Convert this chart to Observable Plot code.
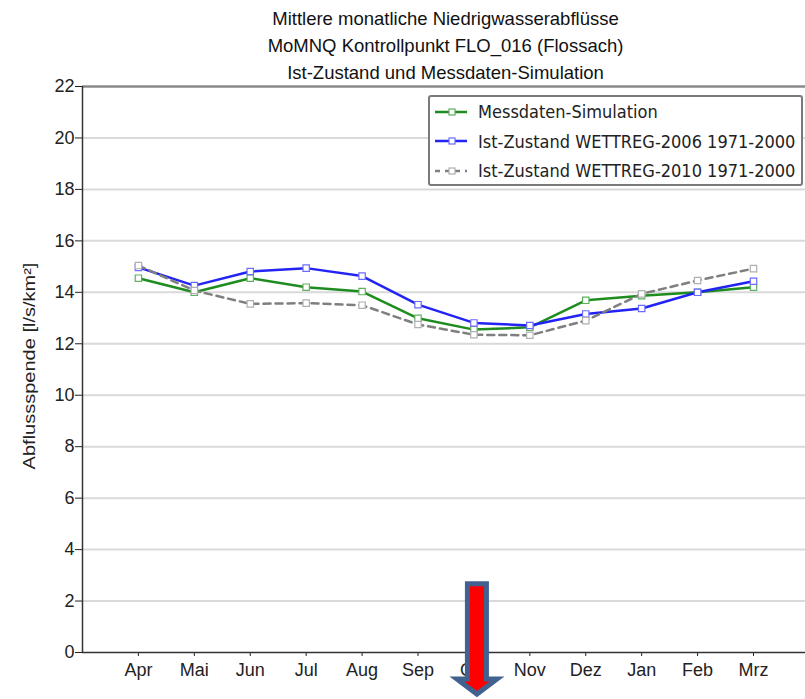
<!DOCTYPE html>
<html>
<head>
<meta charset="utf-8">
<script src="https://cdn.jsdelivr.net/npm/d3@7"></script>
<script src="https://cdn.jsdelivr.net/npm/@observablehq/plot@0.6"></script>
<style>
  body { margin: 0; background: white; }
  #wrap { position: relative; width: 805px; height: 699px; overflow: hidden; }
  #title {
    position: relative; z-index: 1; height: 60px; overflow: visible;
    padding-left: 86px; padding-top: 4.5px; box-sizing: border-box;
    font-family: "Liberation Sans", Arial, sans-serif;
    font-size: 18.5px; line-height: 27px; text-align: center; color: #111;
  }
  #ylabel {
    position: absolute; z-index: 1; left: 30px; top: 366px;
    transform: translate(-50%, -50%) rotate(-90deg) scaleY(0.8);
    font-family: "Liberation Sans", Arial, sans-serif; font-size: 20px; color: #222; white-space: nowrap;
  }
  #legend {
    position: absolute; z-index: 2; left: 428px; top: 95px; width: 375px; height: 91px;
    box-sizing: border-box; border: 2px solid #7a7a7a; border-radius: 3px; background: white;
    font-family: "DejaVu Sans Condensed", "DejaVu Sans", sans-serif; font-size: 18px; color: #222;
    padding-top: 0px;
  }
  .row { display: flex; align-items: center; height: 29.5px; }
  .row svg { margin-left: 5px; margin-right: 11px; }
</style>
</head>
<body>
<div id="wrap">
  <div id="title"></div>
  <div id="ylabel"></div>
  <div id="legend"></div>
  <div id="chart"></div>
</div>
<script>
// Titles
const titleLines = [
  "Mittlere monatliche Niedrigwasserabflüsse",
  "MoMNQ Kontrollpunkt FLO_016 (Flossach)",
  "Ist-Zustand und Messdaten-Simulation"
];
const yLabel = "Abflussspende [l/s/km²]";

// Hydrological year, April to March
const months = ["Apr", "Mai", "Jun", "Jul", "Aug", "Sep", "Okt", "Nov", "Dez", "Jan", "Feb", "Mrz"];
const yTicks = [0, 2, 4, 6, 8, 10, 12, 14, 16, 18, 20, 22];

// Mean monthly low-flow discharge per series [l/s/km²]
const messdaten   = [14.55, 14.00, 14.55, 14.20, 14.03, 12.99, 12.55, 12.64, 13.69, 13.87, 14.00, 14.20];
const wettreg2006 = [14.97, 14.26, 14.81, 14.94, 14.63, 13.52, 12.81, 12.71, 13.16, 13.37, 14.00, 14.43];
const wettreg2010 = [15.04, 14.07, 13.55, 13.58, 13.50, 12.75, 12.35, 12.33, 12.90, 13.94, 14.46, 14.92];

const seriesNames = [
  "Messdaten-Simulation",
  "Ist-Zustand WETTREG-2006 1971-2000",
  "Ist-Zustand WETTREG-2010 1971-2000"
];
const seriesValues = [messdaten, wettreg2006, wettreg2010];
const seriesColors = ["#1f8c1f", "#2323f5", "#7f7f7f"];
const markerStroke = ["#5fb05f", "#6b6bff", "#b0b0b0"];
const seriesDash = [null, null, "7,5"];

// Month highlighted by the arrow
const highlightMonth = "Okt";

document.getElementById("title").innerHTML = titleLines.map(t => `<div>${t}</div>`).join("");
document.getElementById("ylabel").textContent = yLabel;

const rows = seriesValues.map(vals => months.map((m, i) => ({i, month: m, v: vals[i]})));

const lineMarks = [];
rows.forEach((data, s) => {
  lineMarks.push(Plot.line(data, {
    x: "i", y: "v", stroke: seriesColors[s], strokeWidth: 2.5,
    strokeDasharray: seriesDash[s] ?? undefined
  }));
});
rows.forEach((data, s) => {
  lineMarks.push(Plot.dot(data, {
    x: "i", y: "v", symbol: "square", r: 3.6, fill: "white",
    stroke: markerStroke[s], strokeWidth: 1.2
  }));
});

const xDomain = [-1.0, 11.93];

const plot = Plot.plot({
  width: 805,
  height: 639,
  marginLeft: 82,
  marginRight: 0,
  marginTop: 26,
  marginBottom: 47,
  style: {
    background: "transparent",
    fontFamily: "'Liberation Sans', Arial, sans-serif",
    fontSize: "18px",
    color: "#222"
  },
  x: {
    type: "linear", domain: xDomain,
    ticks: months.map((_, i) => i), tickFormat: i => months[i],
    label: null, tickSize: 4, tickPadding: 7
  },
  y: {
    domain: [0, 22], ticks: yTicks, label: null, tickSize: 7, tickPadding: 1
  },
  marks: [
    Plot.ruleY(yTicks.slice(1, -1), {stroke: "#d9d9d9", strokeWidth: 2}),
    Plot.ruleY([22], {stroke: "#8a8a8a", strokeWidth: 2.5}),
    Plot.ruleY([0], {stroke: "#333", strokeWidth: 1.5}),
    Plot.ruleX([xDomain[0]], {stroke: "#333", strokeWidth: 1.5}),
    ...lineMarks
  ]
});

// Block arrow pointing at the highlighted month
{
  const xs = plot.scale("x"), ys = plot.scale("y");
  const cx = xs.apply(months.indexOf(highlightMonth)) + 3.5;
  const top = ys.apply(2.65);
  const base = ys.apply(0);
  const headY = base + 27, tipY = base + 42;
  const hw = 9.5, hh = 20;
  const path = `M${cx - hw},${top} L${cx + hw},${top} L${cx + hw},${headY} L${cx + hh},${headY} L${cx},${tipY} L${cx - hh},${headY} L${cx - hw},${headY} Z`;
  d3.select(plot).append("path")
    .attr("d", path)
    .attr("fill", "#ff0000")
    .attr("stroke", "#41618f")
    .attr("stroke-width", 5)
    .attr("stroke-linejoin", "miter");
}

document.getElementById("chart").appendChild(plot);

// Legend
const legend = document.getElementById("legend");
seriesNames.forEach((name, s) => {
  const row = document.createElement("div");
  row.className = "row";
  const dash = seriesDash[s] ? `stroke-dasharray="5,5"` : "";
  row.innerHTML =
    `<svg width="32" height="12" viewBox="0 0 32 12">
       <line x1="0" y1="6" x2="32" y2="6" stroke="${seriesColors[s]}" stroke-width="2.5" ${dash}/>
       <rect x="14" y="3" width="6" height="6" fill="white" stroke="${markerStroke[s]}" stroke-width="1.2"/>
     </svg><span>${name}</span>`;
  legend.appendChild(row);
});
</script>
</body>
</html>
